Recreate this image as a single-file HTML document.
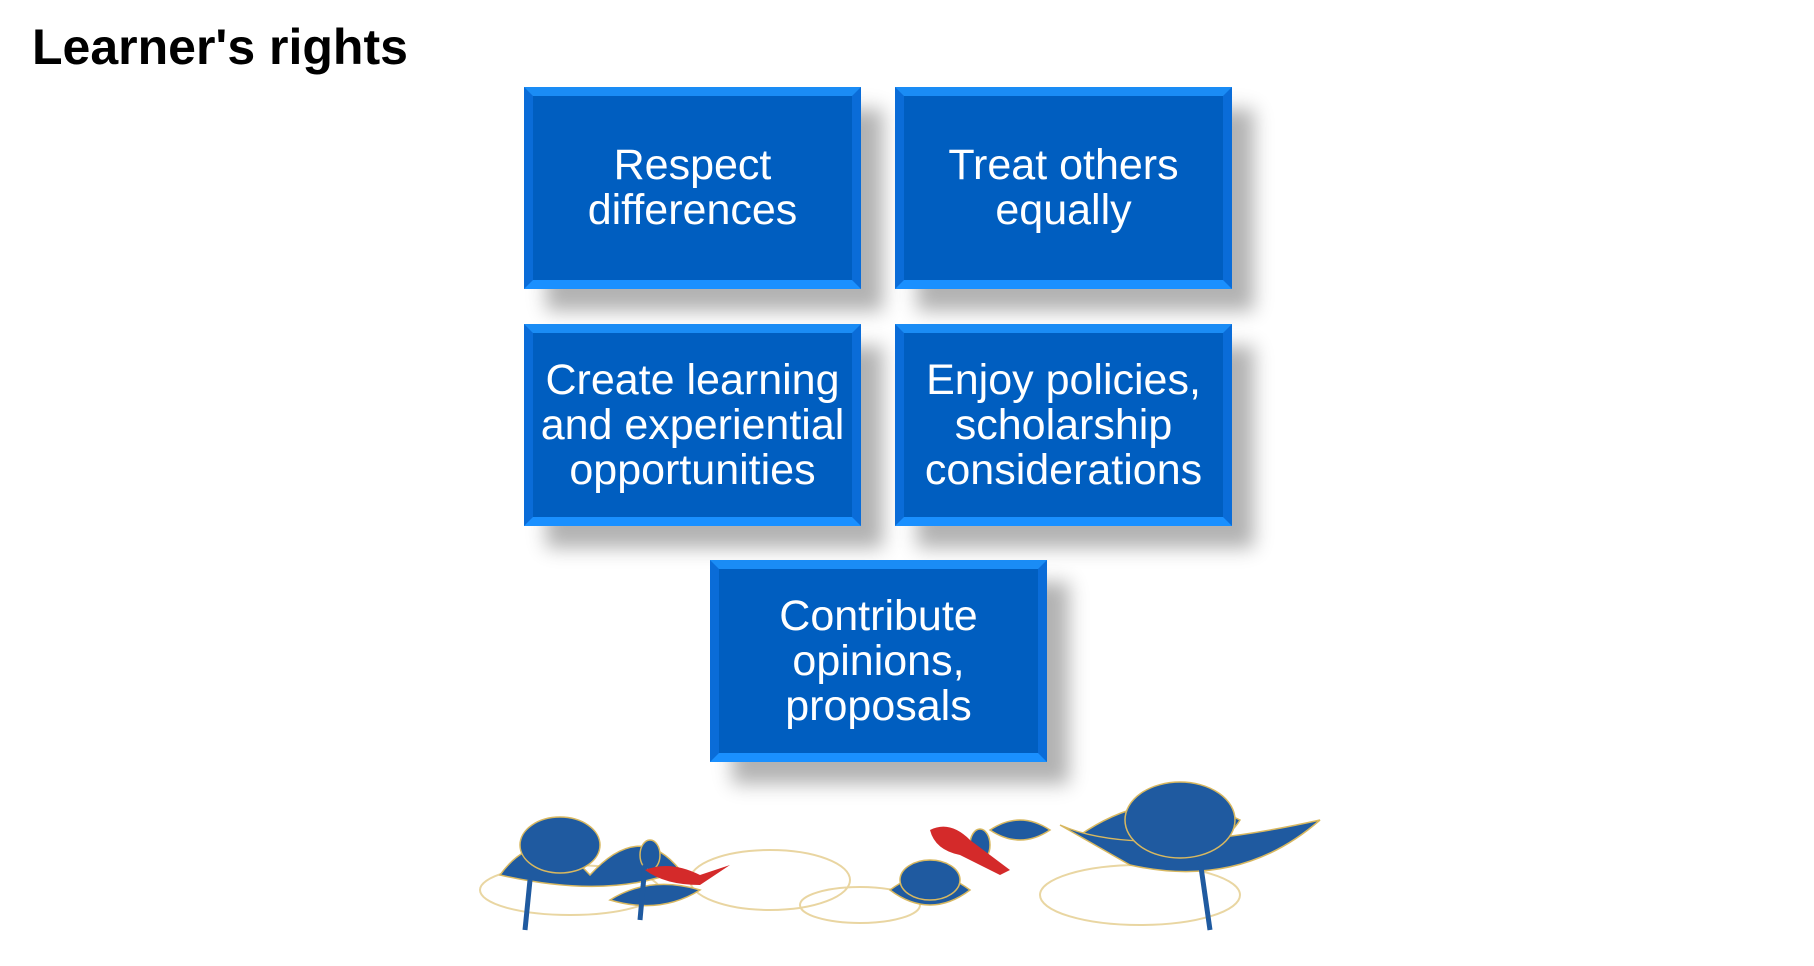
<!DOCTYPE html>
<html><head><style>
body{margin:0;width:1814px;height:966px;background:#fff;position:relative;overflow:hidden;font-family:"Liberation Sans",Arial,sans-serif}
h1{position:absolute;left:32px;top:18px;margin:0;font-size:50px;font-weight:bold;color:#000}
.b{position:absolute;width:337px;height:202px;box-sizing:border-box;background:#005ec0;
border-style:solid;border-width:9px;border-color:#1a8cf5 #0a6cd8 #1a90ff #0a6cd8;
box-shadow:22px 22px 18px rgba(0,0,0,0.3);display:flex;align-items:center;justify-content:center;text-align:center;color:#fff;font-size:43px;line-height:45px}
</style></head><body>
<h1>Learner's rights</h1>
<div class="b" style="left:524px;top:87px">Respect<br>differences</div>
<div class="b" style="left:895px;top:87px">Treat others<br>equally</div>
<div class="b" style="left:524px;top:324px">Create learning<br>and experiential<br>opportunities</div>
<div class="b" style="left:895px;top:324px">Enjoy policies,<br>scholarship<br>considerations</div>
<div class="b" style="left:710px;top:560px">Contribute<br>opinions,<br>proposals</div>
<svg style="position:absolute;left:440px;top:780px" width="900" height="170">
<g fill="none" stroke="#e0c47a" stroke-width="2" opacity="0.7">
<ellipse cx="130" cy="110" rx="90" ry="25"/><ellipse cx="330" cy="100" rx="80" ry="30"/><ellipse cx="420" cy="125" rx="60" ry="18"/><ellipse cx="700" cy="115" rx="100" ry="30"/>
</g>
<g fill="#1f5aa0" stroke="#d8b860" stroke-width="1.5">
<path d="M60 95 Q100 40 150 95 Q200 40 240 90 Q170 120 60 95Z"/>
<ellipse cx="120" cy="65" rx="40" ry="28"/>
<path d="M170 120 Q210 95 260 110 Q220 135 170 120Z"/>
<ellipse cx="210" cy="75" rx="10" ry="15"/>
<path d="M450 110 Q490 80 530 110 Q490 140 450 110Z"/>
<ellipse cx="490" cy="100" rx="30" ry="20"/>
<path d="M550 50 Q580 30 610 50 Q580 70 550 50Z"/>
<ellipse cx="540" cy="65" rx="10" ry="16"/>
<path d="M640 55 Q720 0 800 40 Q770 90 640 55Z"/>
<path d="M620 45 Q700 80 880 40 Q800 110 690 85Z"/>
<ellipse cx="740" cy="40" rx="55" ry="38"/>
</g>
<g stroke="#1f5aa0" stroke-width="5"><line x1="90" y1="100" x2="85" y2="150"/><line x1="205" y1="85" x2="200" y2="140"/><line x1="760" y1="80" x2="770" y2="150"/></g>
<g fill="#d42a2a"><path d="M205 90 Q230 80 260 95 L290 85 L260 105 Q225 105 205 90Z"/><path d="M490 50 Q510 40 530 60 L570 90 L560 95 L520 75 Q495 70 490 50Z"/></g>
</svg>
</body></html>
